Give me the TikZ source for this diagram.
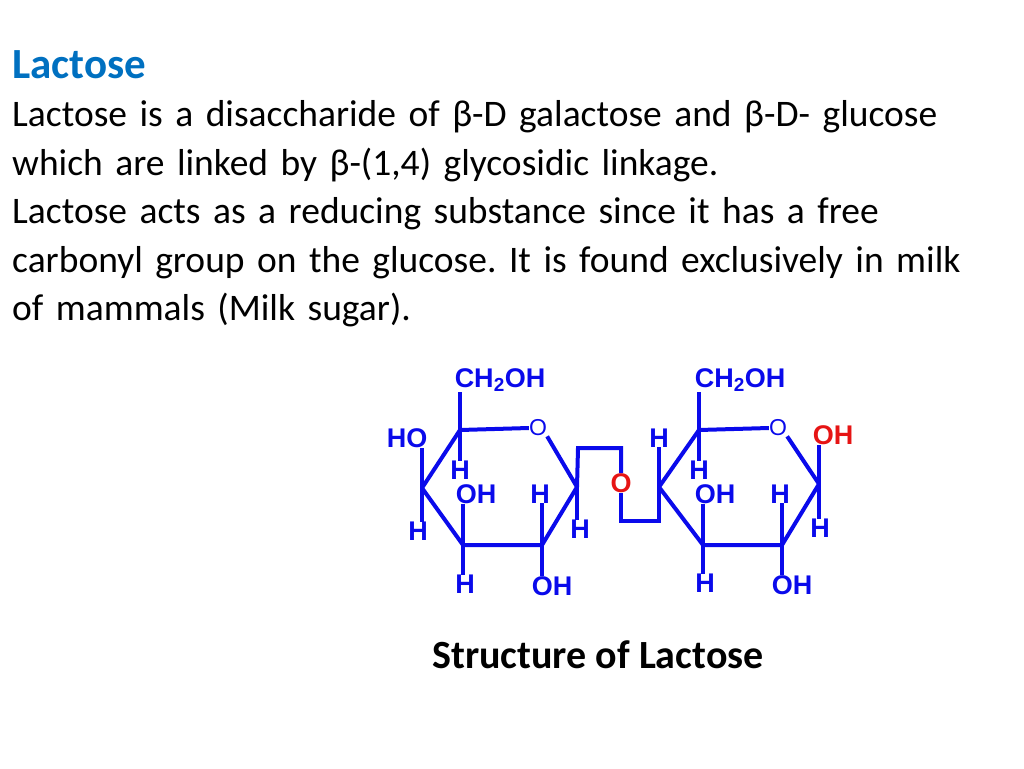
\documentclass[tikz,border=0pt]{standalone}
\usepackage{fontspec}
\setmainfont{Carlito}
\newfontfamily\chemfont{Liberation Sans}
\definecolor{TitleColor}{RGB}{0,112,192}
\definecolor{BondColor}{RGB}{10,10,235}
\definecolor{LinkColor}{RGB}{230,20,20}
\usetikzlibrary{positioning}
\tikzset{
  bond/.style={BondColor, line width=4pt},
  atom/.style={BondColor, font=\chemfont\bfseries\fontsize{27}{27}\selectfont, inner sep=0pt},
  ringO/.style={BondColor, font=\chemfont\fontsize{23}{23}\selectfont, inner sep=0pt},
  redatom/.style={atom, text=LinkColor}
}
\frenchspacing
\begin{document}
\begin{tikzpicture}[x=1pt, y=-1pt]
  \useasboundingbox (0,0) rectangle (1024,768);

  % Text block
  \node[anchor=north west, align=left, inner sep=0pt, text width=1010pt,
        font=\fontsize{37.5}{48.5}\selectfont] (intro) at (12,50) {%
    {\bfseries\color{TitleColor}\fontsize{43}{48.5}\selectfont Lactose}\\
    Lactose is a disaccharide of β-D galactose and β-D- glucose\\
    which are linked by β-(1,4) glycosidic linkage.\\
    Lactose acts as a reducing substance since it has a free\\
    carbonyl group on the glucose. It is found exclusively in milk\\
    of mammals (Milk sugar).};

  % Galactose ring
  \coordinate (g5) at (460,430);
  \coordinate (g1) at (577,487);
  \coordinate (g2) at (542,545);
  \coordinate (g3) at (463,545);
  \coordinate (g4) at (422,488);
  \node[ringO] (gO) at (538,428) {O};
  \draw[bond] (g5) -- (gO.west);
  \draw[bond, line join=round] (gO.south east) -- (g1) -- (g2) -- (g3) -- (g4) -- (g5);

  \node[atom] (gCH) at (500,380) {CH\textsubscript{2}OH};
  \node[atom] (gHO) at (407,438) {HO};
  \node[atom] (gH5) at (460,470) {H};
  \node[atom] (gOH3) at (476,494) {OH};
  \node[atom] (gH2) at (540,494) {H};
  \node[atom] (gH4) at (418,531) {H};
  \node[atom] (gH3) at (465,584) {H};
  \node[atom] (gOH2) at (552,586) {OH};
  \node[atom] (gH1) at (580,529) {H};
  \draw[bond] (g5) -- (g5 |- gCH.south);
  \draw[bond] (g4) -- (g4 |- gHO.south);
  \draw[bond] (g5) -- (g5 |- gH5.north);
  \draw[bond] (g3) -- (g3 |- gOH3.south);
  \draw[bond] (g2) -- (g2 |- gH2.south);
  \draw[bond] (g4) -- (g4 |- gH4.north);
  \draw[bond] (g3) -- (g3 |- gH3.north);
  \draw[bond] (g2) -- (g2 |- gOH2.north);
  \draw[bond] (g1) -- (g1 |- gH1.north);

  % Glycosidic link
  \node[redatom] (link) at (621,483) {O};
  \coordinate (c4) at (659,487);
  \draw[bond] (g1) -- (578,448) -| (link.north);
  \draw[bond] (link.south) |- (c4 |- 0,521) -- (c4);

  % Glucose ring
  \coordinate (c5) at (699,430);
  \coordinate (c1) at (819,484);
  \coordinate (c2) at (782,545);
  \coordinate (c3) at (703,545);
  \node[ringO] (cO) at (778,428) {O};
  \draw[bond] (c5) -- (cO.west);
  \draw[bond, line join=round] (cO.south east) -- (c1) -- (c2) -- (c3) -- (c4) -- (c5);

  \node[atom] (cCH) at (740,380) {CH\textsubscript{2}OH};
  \node[atom] (cH4) at (659,438) {H};
  \node[atom] (cH5) at (699,470) {H};
  \node[atom] (cOH3) at (715,494) {OH};
  \node[atom] (cH2) at (780,494) {H};
  \node[atom] (cH3) at (705,583) {H};
  \node[atom] (cOH2) at (792,585) {OH};
  \node[redatom] (cOH1) at (833,435) {OH};
  \node[atom] (cH1) at (820,528) {H};
  \draw[bond] (c5) -- (c5 |- cCH.south);
  \draw[bond] (c4) -- (c4 |- cH4.south);
  \draw[bond] (c5) -- (c5 |- cH5.north);
  \draw[bond] (c3) -- (c3 |- cOH3.south);
  \draw[bond] (c2) -- (c2 |- cH2.south);
  \draw[bond] (c3) -- (c3 |- cH3.north);
  \draw[bond] (c2) -- (c2 |- cOH2.north);
  \draw[bond] (c1) -- (c1 |- cOH1.south);
  \draw[bond] (c1) -- (c1 |- cH1.north);

  % Caption
  \node[font=\bfseries\fontsize{40}{40}\selectfont] (caption) at (598,655) {Structure of Lactose};
\end{tikzpicture}
\end{document}
